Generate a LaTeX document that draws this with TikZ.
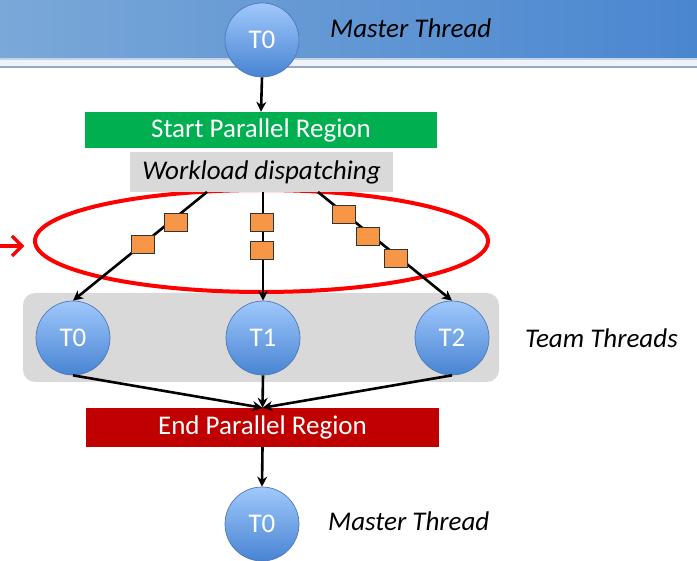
\documentclass[tikz,border=0pt]{standalone}
\usepackage{fontspec}
\setmainfont{Carlito}
\usetikzlibrary{arrows.meta,shapes.geometric}
\definecolor{bandL}{RGB}{122,168,216}
\definecolor{bandR}{RGB}{74,134,208}
\definecolor{circTop}{RGB}{160,200,252}
\definecolor{circBot}{RGB}{72,132,210}
\definecolor{circLine}{RGB}{80,120,185}
\definecolor{greenbox}{RGB}{0,176,80}
\definecolor{redbox}{RGB}{192,0,0}
\definecolor{graybox}{RGB}{217,217,217}
\definecolor{orangesq}{RGB}{247,150,70}
\definecolor{stripA}{RGB}{196,210,230}
\definecolor{stripB}{RGB}{238,243,249}
\definecolor{stripC}{RGB}{150,170,200}
\tikzset{
  thread/.style={circle, minimum size=74pt, inner sep=0pt, draw=circLine, line width=0.7pt,
    top color=circTop, bottom color=circBot, text=white, font=\fontsize{27}{32}\selectfont},
  bar/.style={minimum height=37pt, inner sep=0pt, text=white, font=\fontsize{27}{32}\selectfont},
  lbl/.style={inner sep=0pt, font=\fontsize{27}{32}\selectfont\itshape},
  task/.style={rectangle, minimum width=23pt, minimum height=18pt, inner sep=0pt,
    fill=orangesq, draw=black!80, line width=0.9pt},
  arr/.style={line width=2.6pt, -{Stealth[length=10pt,width=10pt]}},
}
\begin{document}
\begin{tikzpicture}[x=1pt,y=-1pt]
\useasboundingbox (0,0) rectangle (697,561);
% top band
\shade[left color=bandL, right color=bandR] (0,0) rectangle (697,58);
\fill[stripA] (0,58) rectangle (697,60.5);
\fill[stripB] (0,60.5) rectangle (697,66);
\fill[stripC] (0,66) rectangle (697,68.5);
% team box
\node[fill=graybox, rounded corners=12pt, minimum width=476pt, minimum height=89pt, inner sep=0pt] (team) at (261,337.5) {};
% red selection ellipse
\node[ellipse, draw=red, line width=4pt, minimum width=453pt, minimum height=102pt, inner sep=0pt] (sel) at (261.5,241) {};
\coordinate (pa) at (0,246);
\coordinate (pb) at (20,246);
\draw[red, line width=3.5pt] (pa) -- (pb);
\draw[red, line width=3.5pt, line join=miter] (12,236) -- (22,246) -- (12,256);
% nodes
\node[thread] (m0) at (262,40) {T0};
\node[lbl, anchor=west] (mt0) at (330,28) {Master Thread};
\node[bar, fill=greenbox, minimum width=352pt, minimum height=36pt] (start) at (261,130) {Start Parallel Region};
\node[bar, fill=graybox, text=black, minimum width=263pt, minimum height=40pt, font=\fontsize{27}{32}\selectfont\itshape] (wl) at (261.5,172) {Workload dispatching};
\node[thread] (t0) at (73,338) {T0};
\node[thread] (t1) at (263,338) {T1};
\node[thread] (t2) at (452,338) {T2};
\node[lbl, anchor=west] (tt) at (525,338) {Team Threads};
\node[bar, fill=redbox, minimum width=353pt, minimum height=39pt] (end) at (262.5,427.5) {End Parallel Region};
\node[thread] (m1) at (262,524) {T0};
\node[lbl, anchor=west] (mt1) at (328,521) {Master Thread};
% connectors
\draw[arr] (m0.south) -- (start.north);
\coordinate (ls) at (207,192);
\coordinate (rs) at (318,192);
\draw[arr] (ls) -- (t0.north);
\draw[arr] (wl.south -| t1.north) -- (t1.north);
\draw[arr] (rs) -- (t2.north);
\draw[arr] (t0.south) -- (end.north);
\draw[arr] (t1.south) -- (end.north);
\draw[arr] (t2.south) -- (end.north);
\draw[arr] (end.south) -- (m1.north);
% tasks
\node[task] (a1) at (176,222) {};
\node[task] (a2) at (143,244) {};
\node[task] (b1) at (262,222) {};
\node[task] (b2) at (262,250) {};
\node[task] (c1) at (344,214) {};
\node[task] (c2) at (368,236) {};
\node[task] (c3) at (396,258) {};
\end{tikzpicture}
\end{document}
